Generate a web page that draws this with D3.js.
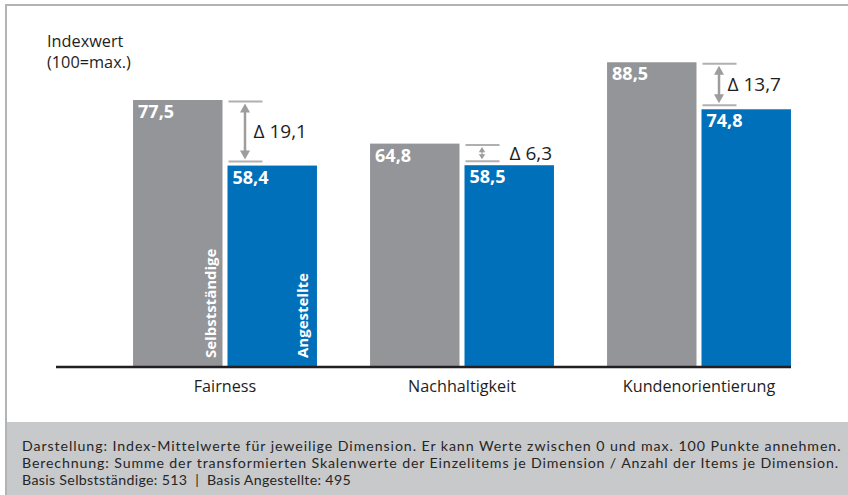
<!DOCTYPE html>
<html><head><meta charset="utf-8">
<script src="https://cdn.jsdelivr.net/npm/d3@7"></script>
<style>
html,body{margin:0;padding:0;background:#fff;}
svg{display:block;font-family:"Open Sans",sans-serif;}
</style></head>
<body><svg id="c" width="848" height="495"></svg>
<script>
const categories = ["Fairness", "Nachhaltigkeit", "Kundenorientierung"];
const seriesNames = ["Selbstständige", "Angestellte"];
const selbststaendige = [77.5, 64.8, 88.5];
const angestellte = [58.4, 58.5, 74.8];
const deltas = [19.1, 6.3, 13.7];
const yLabel = ["Indexwert", "(100=max.)"];
const notes = [
  "Darstellung: Index-Mittelwerte für jeweilige Dimension. Er kann Werte zwischen 0 und max. 100 Punkte annehmen.",
  "Berechnung: Summe der transformierten Skalenwerte der Einzelitems je Dimension / Anzahl der Items je Dimension.",
  "Basis Selbstständige: 513  |  Basis Angestellte: 495"
];

const colors = {gray: "#939598", blue: "#0070ba"};
const svg = d3.select("#c");
const de = d3.formatLocale({decimal: ",", thousands: ".", grouping: [3], currency: ["", "€"]});
const fmt = de.format(".1f");

// frame + footer
svg.append("rect").attr("x", 6).attr("y", 422).attr("width", 842).attr("height", 73).attr("fill", "#c8c9cb");
svg.append("line").attr("x1", 6).attr("x2", 848).attr("y1", 5).attr("y2", 5).attr("stroke", "#b4b4b4").attr("stroke-width", 2);
svg.append("line").attr("x1", 6).attr("x2", 6).attr("y1", 4).attr("y2", 495).attr("stroke", "#b4b4b4").attr("stroke-width", 2);

const y = d3.scaleLinear().domain([0, 100]).range([366, 22.8]);
const x0 = d3.scaleBand().domain(categories).range([106.5, 817.5]).paddingInner(0.224).paddingOuter(0.112);
const x1 = d3.scaleBand().domain(seriesNames).range([0, x0.bandwidth()]).paddingInner(0.053).paddingOuter(0);

const rows = categories.map((c, i) => ({cat: c, vals: [selbststaendige[i], angestellte[i]], delta: deltas[i]}));

const g = svg.append("g");
const groups = g.selectAll("g.grp").data(rows).join("g").attr("class", "grp")
  .attr("transform", d => `translate(${x0(d.cat)},0)`);

groups.selectAll("rect").data(d => d.vals.map((v, j) => ({v, s: seriesNames[j], j})))
  .join("rect")
  .attr("x", d => x1(d.s)).attr("width", x1.bandwidth())
  .attr("y", d => y(d.v)).attr("height", d => y(0) - y(d.v))
  .attr("fill", d => d.j === 0 ? colors.gray : colors.blue);

groups.selectAll("text.val").data(d => d.vals.map((v, j) => ({v, s: seriesNames[j]})))
  .join("text").attr("class", "val")
  .attr("x", d => x1(d.s) + 5).attr("y", d => y(d.v) + 18)
  .attr("fill", "#fff").attr("font-weight", 700).attr("font-size", 18)
  .text(d => fmt(d.v));

// vertical series labels in first group
const first = groups.filter((d, i) => i === 0);
seriesNames.forEach((s, j) => {
  const cx = x1(s) + x1.bandwidth() - (j === 0 ? 12 : 14);
  first.append("text")
    .attr("transform", `translate(${cx},${y(0) - 8}) rotate(-90)`)
    .attr("dy", "0.36em")
    .attr("fill", "#fff").attr("font-weight", 700).attr("font-size", 15)
    .text(s);
});

// delta annotations
const arrowCol = "#9d9d9d";
rows.forEach(d => {
  const xb = x0(d.cat) + x1(seriesNames[1]);
  const yt = y(d.vals[0]) + 1.5, yb = y(d.vals[1]) - 4;
  const ag = svg.append("g");
  ag.append("line").attr("x1", xb + 1).attr("x2", xb + 35).attr("y1", yt).attr("y2", yt)
    .attr("stroke", "#b0b0b0").attr("stroke-width", 2);
  ag.append("line").attr("x1", xb + 1).attr("x2", xb + 35).attr("y1", yb).attr("y2", yb)
    .attr("stroke", "#b0b0b0").attr("stroke-width", 2);
  const ax = xb + 17.5;
  const gap = yb - yt;
  const hh = Math.min(9, gap / 3.2), hw = Math.min(5, gap / 5);
  ag.append("line").attr("x1", ax).attr("x2", ax).attr("y1", yt + 3 + hh * 0.5).attr("y2", yb - 3 - hh * 0.5)
    .attr("stroke", arrowCol).attr("stroke-width", gap > 30 ? 2.5 : 1.2);
  ag.append("path").attr("d", `M${ax},${yt + 2}L${ax - hw},${yt + 2 + hh}L${ax + hw},${yt + 2 + hh}Z`).attr("fill", arrowCol);
  ag.append("path").attr("d", `M${ax},${yb - 2}L${ax - hw},${yb - 2 - hh}L${ax + hw},${yb - 2 - hh}Z`).attr("fill", arrowCol);
  ag.append("text")
    .attr("x", gap > 30 ? xb + 26 : xb + 45)
    .attr("y", (yt + yb) / 2).attr("dy", "0.36em")
    .attr("font-size", 19).attr("fill", "#1e1e1e")
    .text("Δ " + fmt(d.delta));
});

// x axis
const xAxis = svg.append("g").attr("transform", `translate(0,${y(0)})`)
  .call(d3.axisBottom(x0).tickSize(0).tickPadding(14));
xAxis.select(".domain").remove();
xAxis.selectAll("text").attr("font-size", 16.2).attr("fill", "#1e1e1e").attr("font-family", "Open Sans");
svg.append("line").attr("x1", 56).attr("x2", 791).attr("y1", y(0) + 1).attr("y2", y(0) + 1)
  .attr("stroke", "#231f20").attr("stroke-width", 2.5);

// y label
svg.append("text").attr("x", 47).attr("y", 46.5).attr("font-size", 16.3).attr("fill", "#1e1e1e").text(yLabel[0]);
svg.append("text").attr("x", 47).attr("y", 68).attr("font-size", 16.3).attr("fill", "#1e1e1e").text(yLabel[1]);

// footer notes, each line fitted to its width in the reference
const noteWidths = [819, 817, 329];
const nt = svg.append("g");
const noteTexts = nt.selectAll("text").data(notes).join("text")
  .attr("x", 22).attr("y", (d, i) => 450.5 + i * 17)
  .attr("font-size", 14.2).attr("font-family", "Lato").attr("fill", "#262626")
  .attr("xml:space", "preserve").style("white-space", "pre")
  .text(d => d);
noteTexts.each(function(d, i) {
  const w = this.getComputedTextLength();
  const ls = Math.max(0, (noteWidths[i] - w) / d.length);
  d3.select(this).attr("letter-spacing", ls);
});
</script></body></html>
